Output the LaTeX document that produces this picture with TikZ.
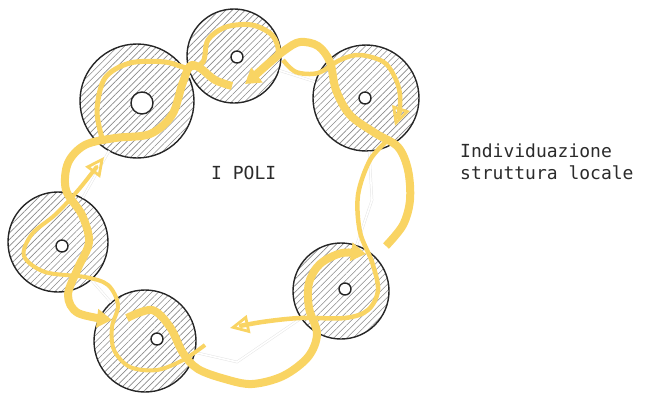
\documentclass[tikz,border=0pt]{standalone}
\usepackage{fontspec}
\setmonofont{DejaVu Sans Mono}
\usetikzlibrary{arrows.meta,patterns.meta}
\definecolor{poloyellow}{HTML}{F9D463}
\definecolor{hatchgray}{HTML}{8A8A8A}
\definecolor{labelgray}{HTML}{2B2B2B}

\begin{document}
\begin{tikzpicture}[x=1pt, y=-1pt,
  polo/.style={circle, draw=black!85, line width=1.4pt, minimum size=#1, inner sep=0pt,
    pattern={Lines[angle=45, distance=4.6pt, line width=0.6pt]}, pattern color=hatchgray},
  core/.style={circle, draw=black!85, line width=1.4pt, fill=white, minimum size=#1, inner sep=0pt},
  ghost/.style={draw=black!10, line width=0.5pt, double=white, double distance=1.6pt},
  band/.style={draw=poloyellow, line width=#1, line cap=butt, line join=round},
  fullhead/.style={-{Triangle[length=15pt, width=18pt]}},
  openhead/.style={-{Triangle[open, length=19pt, width=18pt, line width=2.8pt]}},
  lab/.style={font=\ttfamily\fontsize{18}{22}\selectfont, text=labelgray, inner sep=0pt}]
  \useasboundingbox (0,0) rectangle (650,392);

  % i poli
  \node[polo=114pt] (P1) at (137,101) {};
  \node[polo=94pt]  (P2) at (234,56) {};
  \node[polo=106pt] (P3) at (366,98) {};
  \node[polo=100pt] (P4) at (58,242) {};
  \node[polo=102pt] (P5) at (145,341) {};
  \node[polo=96pt]  (P6) at (341,291) {};
  \foreach \p/\x/\y/\d in {1/142/103/22, 2/237/57/12, 3/365/98/12, 4/62/246/12, 5/157/339/12, 6/345/289/12}
    \node[core=\d pt] (c\p) at (\x,\y) {};

  \coordinate (bend) at (237,362);
  \coordinate (side) at (372,200);
  \draw[ghost] (P1) -- (P2);
  \draw[ghost] (P2) -- (P3);
  \draw[ghost] (P3) -- (side) -- (P6);
  \draw[ghost] (P6) -- (bend) -- (P5);
  \draw[ghost] (P5) -- (P4);
  \draw[ghost] (P4) -- (P1);

  % percorsi
  \draw[band=4pt, openhead] plot[smooth, tension=0.55] coordinates {(205,345) (183,360) (157,370) (130,367) (114,350) (112,327) (118,305) (108,285) (85,277) (45,272) (24,256) (32,234) (56,214) (80,188) (104,157)};
  \draw[band=5pt, fullhead] plot[smooth, tension=0.55] coordinates {(102,138) (97,110) (105,78) (130,63) (165,62) (188,68) (203,62) (208,40) (226,27) (252,25) (272,35) (278,52) (266,67) (245,84)};
  \draw[band=8pt, fullhead] plot[smooth, tension=0.55] coordinates {(232,86) (215,80) (200,68) (190,66) (182,85) (172,115) (150,134) (115,138) (85,145) (68,163) (66,190) (82,215) (89,242) (78,268) (68,295) (78,313) (112,320)};
  \draw[band=8pt] plot[smooth, tension=0.55] coordinates {(250,80) (268,64) (285,50) (300,42) (318,46) (330,62) (336,90) (350,115) (375,133) (398,147) (408,170) (410,200) (403,225) (386,246)};
  \draw[band=4.5pt, openhead] plot[smooth, tension=0.55] coordinates {(283,60) (296,72) (318,73) (340,60) (360,55) (385,63) (398,85) (400,106) (395,126)};
  \draw[band=4.5pt, openhead] plot[smooth, tension=0.55] coordinates {(388,140) (370,160) (358,195) (360,232) (372,262) (378,290) (368,310) (345,318) (300,318) (262,322) (230,328)};
  \draw[band=8pt, fullhead] plot[smooth, tension=0.55] coordinates {(127,318) (152,310) (170,327) (183,353) (198,369) (225,379) (252,384) (283,376) (308,357) (317,334) (309,308) (309,283) (320,264) (342,253) (366,254)};

  \node[lab, anchor=base west] (title) at (211,179) {I POLI};
  \node[lab, anchor=base west] (note1) at (460,157) {Individuazione};
  \node[lab, anchor=base west] (note2) at (460,179) {struttura locale};
\end{tikzpicture}
\end{document}
